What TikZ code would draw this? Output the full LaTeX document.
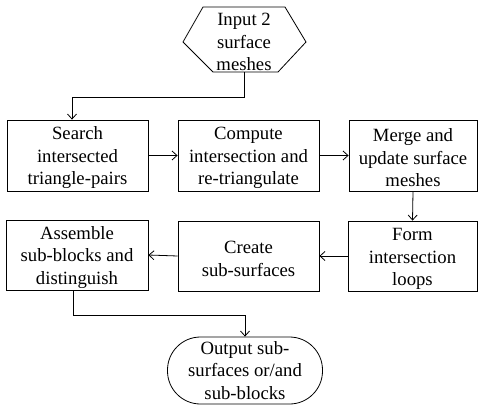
\documentclass[tikz,border=0pt]{standalone}
\usepackage{fontspec}
\setmainfont{Liberation Serif}
\usetikzlibrary{calc,arrows.meta}
\newcommand\toppad{\rule{0pt}{18pt}}
\begin{document}
\begin{tikzpicture}[x=1pt,y=-1pt,
  txt/.style={align=center, inner sep=0pt, font=\fontsize{18.7}{22.5}\selectfont},
  box/.style={txt, draw, line width=0.8pt},
  conn/.style={line width=0.8pt, -{Straight Barb[length=5pt,width=9pt,line width=0.8pt]}}]
\useasboundingbox (0,0) rectangle (486,409);
% input hexagon
\node[txt, minimum width=82pt, minimum height=65pt] (hex) at (244,39.5) {\toppad Input 2\\surface\\meshes};
\draw[line width=0.8pt] (203,7) -- (285,7) -- (306,42) -- (278,72) -- (213,72) -- (183,42) -- cycle;
% row 1
\node[box, minimum width=141pt, minimum height=71pt] (s1) at (77.5,155.5) {\toppad Search\\intersected\\triangle-pairs};
\node[box, minimum width=141pt, minimum height=71pt] (s2) at (248.5,155.5) {\toppad Compute\\intersection and\\re-triangulate};
\node[box, minimum width=128pt, minimum height=71pt] (s3) at (413,155.5) {\toppad Merge and\\update surface\\meshes};
% row 2
\node[box, minimum width=142pt, minimum height=70pt] (s6) at (77,255) {\toppad Assemble\\sub-blocks and\\distinguish};
\node[box, minimum width=141pt, minimum height=70pt] (s5) at (248.5,256) {\toppad Create\\sub-surfaces};
\node[box, minimum width=129pt, minimum height=70pt] (s4) at (412.5,256) {\toppad Form\\intersection\\loops};
% output
\node[box, minimum width=155pt, minimum height=67pt, rounded corners=33pt] (out) at (245,370.5) {Output sub-\\surfaces or/and\\sub-blocks};
% connectors
\coordinate (j1) at (72,97);
\draw[conn] (hex.south) |- (j1) -- (j1 |- s1.north);
\draw[conn] (s1.east) -- (s2.west);
\draw[conn] (s2.east) -- (s3.west);
\draw[conn] (s3.south) -- (s4.north);
\draw[conn] (s4.west) -- (s5.east);
\draw[conn] (s5.west) -- (s6.east);
\coordinate (j2) at (73,315);
\draw[conn] (j2 |- s6.south) -- (j2) -| (out.north);
\end{tikzpicture}
\end{document}
